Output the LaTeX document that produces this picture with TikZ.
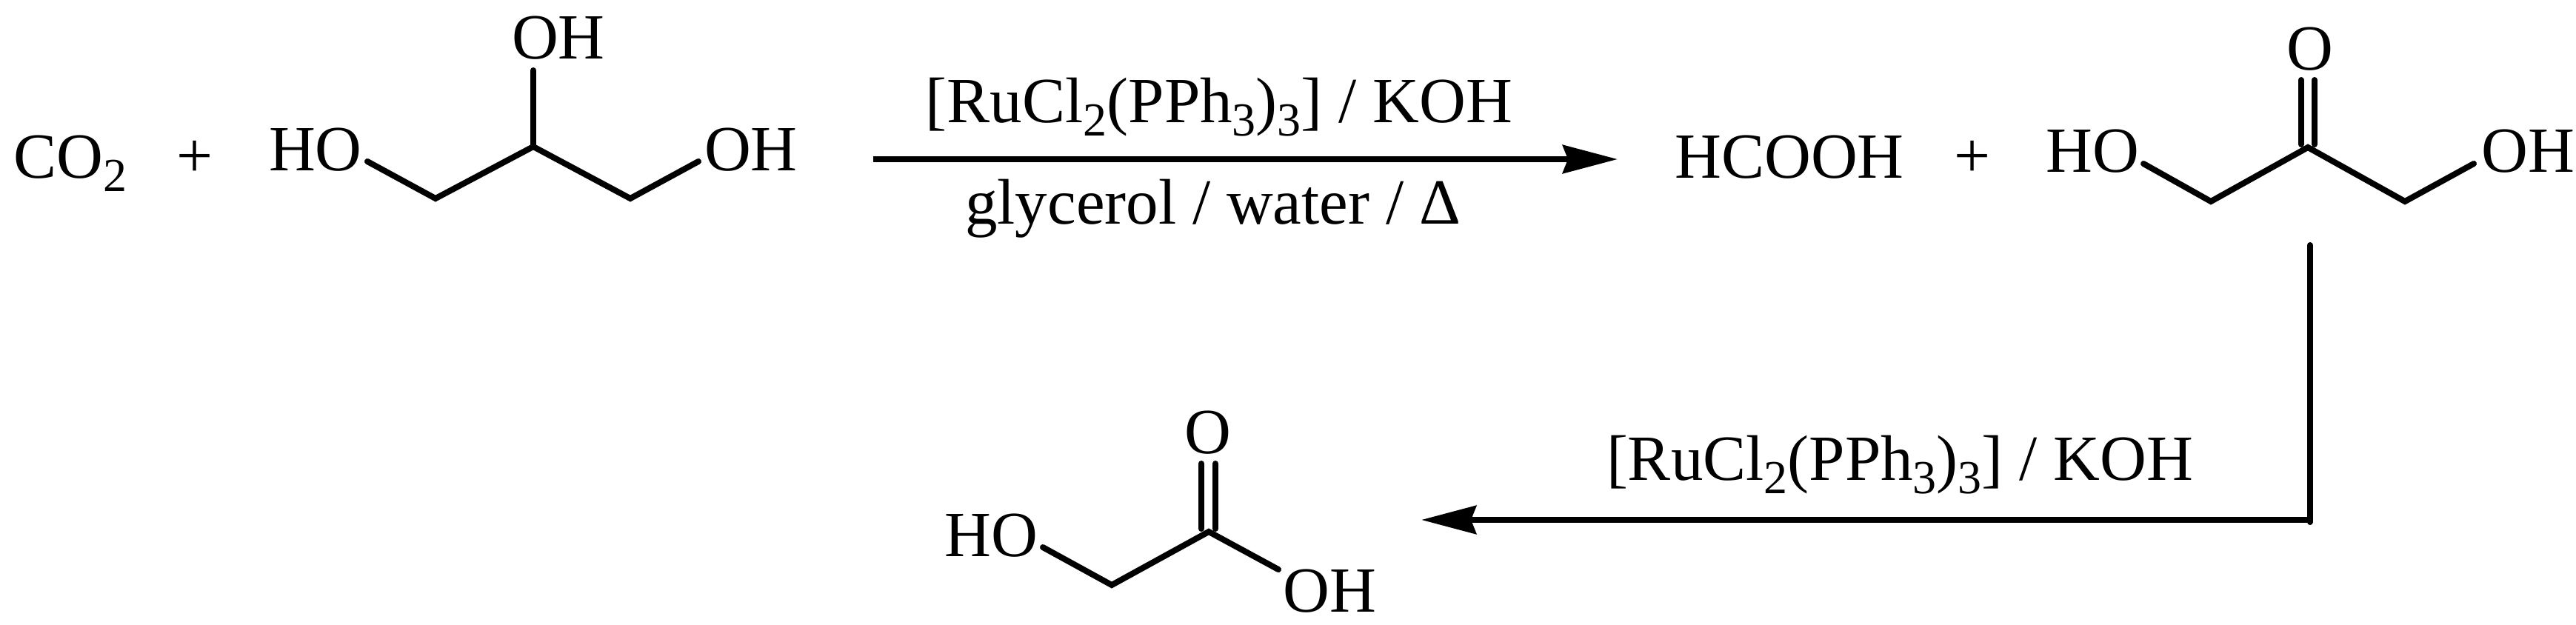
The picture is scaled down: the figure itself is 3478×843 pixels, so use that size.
\documentclass[tikz,border=0pt]{standalone}
\usepackage{fontspec}
\setmainfont{Liberation Serif}
\usetikzlibrary{arrows.meta}
\newcommand{\lowsub}[1]{\raisebox{-9pt}{\fontsize{32}{36}\selectfont #1}}
\begin{document}
\begin{tikzpicture}[x=0.5pt, y=-0.5pt,
		lab/.style = {anchor=base, inner sep=0pt, font=\fontsize{43.5}{50}\selectfont},
		bond/.style = {line width=4pt, line cap=round},
		rxn/.style = {line width=4pt, -{Stealth[length=37pt, width=19pt, inset=3.5pt]}}]
			\useasboundingbox (0,0) rectangle (3478,843);
			\node[lab] (co2) at (95,240) {CO\lowsub{2}};
			\node[lab] (plus1) at (263,239) {+};
			\node[lab] (ho1) at (426,230) {HO};
			\node[lab] (oh1) at (1014,230) {OH};
			\node[lab] (oh2) at (754,79) {OH};
			\node[lab] (lab1) at (1646,165) {[RuCl\lowsub{2}(PPh\lowsub{3})\lowsub{3}] / KOH};
			\node[lab] (lab2) at (1638,302) {glycerol / water / Δ};
			\node[lab] (formic) at (2416,240) {HCOOH};
			\node[lab] (plus2) at (2663,239) {+};
			\node[lab] (ho2) at (2825,232) {HO};
			\node[lab] (oh3) at (3413,232) {OH};
			\node[lab] (o1) at (3119,94) {O};
			\node[lab] (lab3) at (2565,648) {[RuCl\lowsub{2}(PPh\lowsub{3})\lowsub{3}] / KOH};
			\node[lab] (ho3) at (1338,751) {HO};
			\node[lab] (oh4) at (1795,826) {OH};
			\node[lab] (o2) at (1631,612) {O};
			\coordinate (a1) at (496,218);
			\coordinate (a2) at (588,268);
			\coordinate (a3) at (720,198);
			\coordinate (a4) at (851,268);
			\coordinate (a5) at (943,218);
			\coordinate (a6) at (720,95);
			\coordinate (b1) at (2894,221);
			\coordinate (b2) at (2985,272);
			\coordinate (b3) at (3116,199);
			\coordinate (b4) at (3247,272);
			\coordinate (b5) at (3340,221);
			\coordinate (b6) at (3107,195);
			\coordinate (b7) at (3107,108);
			\coordinate (b8) at (3125,195);
			\coordinate (b9) at (3125,108);
			\coordinate (c1) at (1408,739);
			\coordinate (c2) at (1501,790);
			\coordinate (c3) at (1632,718);
			\coordinate (c4) at (1726,769);
			\coordinate (c5) at (1622,714);
			\coordinate (c6) at (1622,626);
			\coordinate (c7) at (1641,714);
			\coordinate (c8) at (1641,626);
			\coordinate (r1) at (1179,215);
			\coordinate (r2) at (2184,215);
			\coordinate (r3) at (3119,331);
			\coordinate (r4) at (3119,705);
			\coordinate (r5) at (3119,702);
			\coordinate (r6) at (1919,702);
			\draw[bond] (a1) -- (a2) -- (a3) -- (a4) -- (a5);
			\draw[bond] (a3) -- (a6);
			\draw[bond] (b1) -- (b2) -- (b3) -- (b4) -- (b5);
			\draw[bond] (b6) -- (b7);
			\draw[bond] (b8) -- (b9);
			\draw[bond] (c1) -- (c2) -- (c3) -- (c4);
			\draw[bond] (c5) -- (c6);
			\draw[bond] (c7) -- (c8);
			\draw[rxn] (r1) -- (r2);
			\draw[bond] (r3) -- (r4);
			\draw[rxn] (r5) -- (r6);
		\end{tikzpicture}
\end{document}
